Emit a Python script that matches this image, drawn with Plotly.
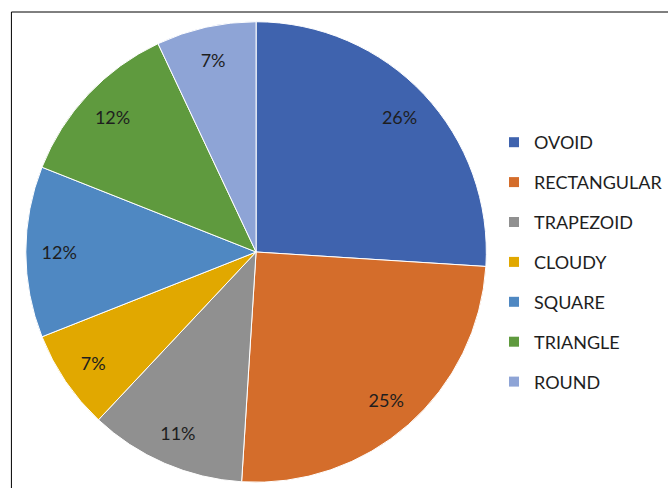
import plotly.graph_objects as go

labels = ["OVOID", "RECTANGULAR", "TRAPEZOID", "CLOUDY", "SQUARE", "TRIANGLE", "ROUND"]
values = [26, 25, 11, 7, 12, 12, 7]
colors = ["#3F63AE", "#D46D2B", "#909090", "#E1A800", "#4F88C2", "#5F9A3E", "#8EA4D6"]

FONT = "Lato"
W, H = 668, 488
DOM = dict(x=[26 / W, 490 / W], y=[4 / H, 468 / H])

fig = go.Figure()
fig.add_trace(go.Pie(
    labels=labels, values=values, sort=False, direction="clockwise", rotation=0,
    marker=dict(colors=colors, line=dict(color="white", width=1)),
    textinfo="none", showlegend=False, hoverinfo="label+percent",
    domain=DOM,
))
# percentage labels placed in an outer ring (transparent overlay of the same data)
fig.add_trace(go.Pie(
    labels=labels, values=values, sort=False, direction="clockwise", rotation=0,
    hole=0.71,
    marker=dict(colors=["rgba(0,0,0,0)"] * len(labels), line=dict(width=0)),
    texttemplate="%{percent:.0%}",
    textposition="inside", insidetextorientation="horizontal",
    textfont=dict(family=FONT, size=18, color="#1e1e1e"),
    showlegend=False, hoverinfo="skip",
    domain=DOM,
))

# legend entries (one per category, own group for spacing)
for lab, col in zip(labels, colors):
    fig.add_trace(go.Scatter(
        x=[None], y=[None], mode="markers", name=lab, legendgroup=lab,
        marker=dict(symbol="square", size=10, color=col),
        showlegend=True,
    ))

fig.update_layout(
    width=W, height=H, margin=dict(l=0, r=0, t=0, b=0),
    paper_bgcolor="white", plot_bgcolor="white",
    font=dict(family=FONT, size=18, color="#1e1e1e"),
    xaxis=dict(visible=False), yaxis=dict(visible=False),
    legend=dict(x=498 / W, xanchor="left", y=(H - 124) / H, yanchor="top",
                tracegroupgap=13.5, itemwidth=30, bgcolor="rgba(0,0,0,0)",
                font=dict(family=FONT, size=18, color="#1e1e1e")),
    shapes=[dict(type="rect", xref="paper", yref="paper",
                 x0=11.5 / W, x1=1.02, y0=-0.05, y1=(H - 12) / H,
                 line=dict(color="black", width=1), fillcolor="rgba(0,0,0,0)")],
)

fig.write_html("out.html")
